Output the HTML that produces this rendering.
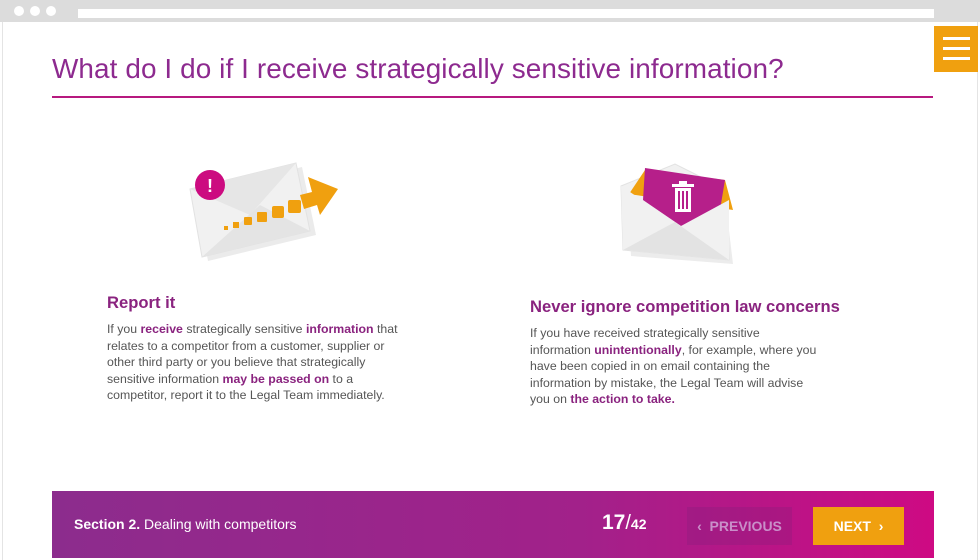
<!DOCTYPE html>
<html><head><meta charset="utf-8"><style>
*{margin:0;padding:0;box-sizing:border-box}
body{width:980px;height:560px;background:#fff;font-family:"Liberation Sans",sans-serif;position:relative;overflow:hidden}
.abs{position:absolute}
.topbar{left:0;top:0;width:980px;height:22px;background:#dcdcdc}
.dot{width:10px;height:10px;border-radius:50%;background:#fff;top:6px}
.frame{left:2px;top:22px;width:976px;height:538px;background:#fff;border-left:1px solid #e4e4e4;border-right:1px solid #e4e4e4}
h1{position:absolute;left:52px;top:53px;font-size:27.9px;font-weight:normal;color:#8d2a8f;letter-spacing:0.1px}
.rule{left:52px;top:96px;width:881px;height:2px;background:#b7197f}
h2{position:absolute;font-size:16.6px;font-weight:bold;color:#8a237f}
p{position:absolute;font-size:12.3px;line-height:16.5px;color:#555}
p b{color:#8a237f}
.footer{left:52px;top:491px;width:882px;height:67px;background:linear-gradient(90deg,#8c2c8d 0%,#a2218a 60%,#ce0a83 100%)}
</style></head><body>
<div class="abs topbar"></div>
<div class="abs dot" style="left:14px"></div>
<div class="abs dot" style="left:30px"></div>
<div class="abs dot" style="left:46px"></div>
<div class="abs" style="left:78px;top:9px;width:856px;height:9px;background:#fff"></div>
<div class="abs frame"></div>
<div class="abs" style="left:934px;top:26px;width:44px;height:46px;background:#f0a00f">
 <div class="abs" style="left:9px;top:11px;width:27px;height:3px;background:#fff"></div>
 <div class="abs" style="left:9px;top:21px;width:27px;height:3px;background:#fff"></div>
 <div class="abs" style="left:9px;top:31px;width:27px;height:3px;background:#fff"></div>
</div>
<h1>What do I do if I receive strategically sensitive information?</h1>
<div class="abs rule"></div>

<svg class="abs" style="left:180px;top:155px" width="180" height="115">
 <polygon points="16,38 122,12 136,80 28,106" fill="#ebebeb"/>
 <polygon points="10,34 116,8 130,76 22,102" fill="#f1f1f1" stroke="#e2e2e2"/>
 <polygon points="10,34 116,8 70,60" fill="#e6e6e6"/>
 <polygon points="22,102 130,76 80,50" fill="#e4e4e4"/>
 <circle cx="30" cy="30" r="15" fill="#cc0b80"/>
 <text x="30" y="37" text-anchor="middle" font-family="Liberation Sans" font-weight="bold" font-size="18" fill="#fff">!</text>
 <rect x="44" y="71" width="4" height="4" fill="#f0a00f"/>
 <rect x="53" y="67" width="6" height="6" fill="#f0a00f"/>
 <rect x="64" y="62" width="8" height="8" rx="1" fill="#f0a00f"/>
 <rect x="77" y="57" width="10" height="10" rx="1" fill="#f0a00f"/>
 <rect x="92" y="51" width="12" height="12" rx="2" fill="#f0a00f"/>
 <rect x="108" y="45" width="13" height="13" rx="2" fill="#f0a00f"/>
 <polygon points="120,40 132,37 128,22 158,34 140,60 137,50 124,54" fill="#f0a00f"/>
</svg>

<svg class="abs" style="left:615px;top:160px" width="130" height="115">
 <polygon points="12,30 108,20 118,104 16,96" fill="#ececec"/>
 <polygon points="6,26 60,4 112,30 114,100 8,90" fill="#f1f1f1" stroke="#e2e2e2"/>
 <polygon points="14,34 30,10 110,20 118,50" fill="#f0a00f"/>
 <polygon points="30,8 110,20 104,56 66,66 28,40" fill="#b61f8a"/>
 <polygon points="6,26 66,66 114,40 114,100 8,90" fill="#f1f1f1"/>
 <polygon points="8,90 60,62 114,100" fill="#e3e3e3"/>
 <rect x="60" y="28" width="16" height="24" fill="#fff"/>
 <rect x="57" y="24" width="22" height="3" fill="#fff"/>
 <rect x="64" y="21" width="8" height="3" fill="#fff"/>
 <rect x="63" y="31" width="2" height="18" fill="#b61f8a"/><rect x="67" y="31" width="2" height="18" fill="#b61f8a"/><rect x="71" y="31" width="2" height="18" fill="#b61f8a"/>
</svg>

<h2 style="left:107px;top:293px">Report it</h2>
<p style="left:107px;top:321px;width:320px">If you <b>receive</b> strategically sensitive <b>information</b> that<br>relates to a competitor from a customer, supplier or<br>other third party or you believe that strategically<br>sensitive information <b>may be passed on</b> to a<br>competitor, report it to the Legal Team immediately.</p>
<h2 style="left:530px;top:297px">Never ignore competition law concerns</h2>
<p style="left:530px;top:325px;width:320px">If you have received strategically sensitive<br>information <b>unintentionally</b>, for example, where you<br>have been copied in on email containing the<br>information by mistake, the Legal Team will advise<br>you on <b>the action to take.</b></p>

<div class="abs footer"></div>
<div class="abs" style="left:74px;top:516px;font-size:14px;color:#fff"><b>Section 2.</b> Dealing with competitors</div>
<div class="abs" style="left:602px;top:511px;color:#fff;font-weight:bold"><span style="font-size:21px">17</span><span style="font-size:20px;font-weight:normal">/</span><span style="font-size:14px">42</span></div>
<div class="abs" style="left:687px;top:507px;width:105px;height:38px;background:rgba(120,30,120,0.25);color:#c98fc9;font-size:14px;font-weight:bold;line-height:38px;text-align:center">‹&nbsp; PREVIOUS</div>
<div class="abs" style="left:813px;top:507px;width:91px;height:38px;background:#f0a00f;color:#fff;font-size:14px;font-weight:bold;line-height:38px;text-align:center">NEXT &nbsp;›</div>
</body></html>
